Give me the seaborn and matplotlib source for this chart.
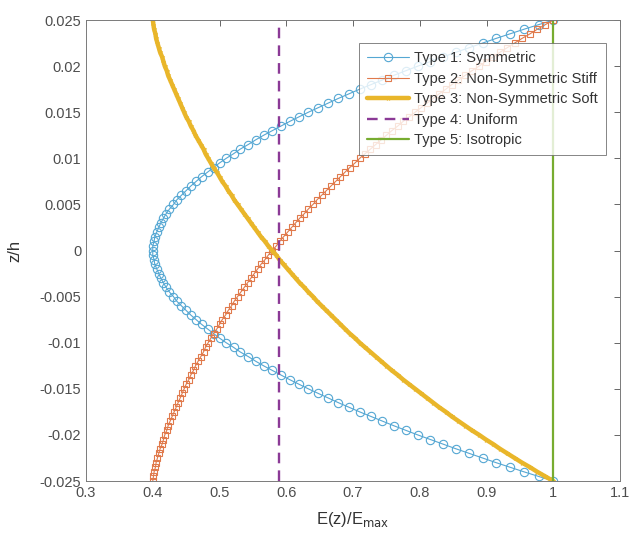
import numpy as np
import pandas as pd
import matplotlib
matplotlib.use("Agg")
import matplotlib.pyplot as plt
import seaborn as sns

# ---- data ----
z_over_h = np.linspace(-0.025, 0.025, 101)

type1_symmetric = [
    1.000, 0.978, 0.956, 0.935, 0.914, 0.894, 0.874, 0.854, 0.835, 0.816,
    0.797, 0.779, 0.761, 0.744, 0.727, 0.710, 0.694, 0.678, 0.663, 0.648,
    0.633, 0.619, 0.605, 0.592, 0.579, 0.566, 0.554, 0.543, 0.531, 0.521,
    0.510, 0.500, 0.491, 0.482, 0.473, 0.465, 0.457, 0.450, 0.443, 0.436,
    0.431, 0.425, 0.420, 0.416, 0.412, 0.409, 0.406, 0.403, 0.402, 0.400,
    0.400,
    0.400, 0.402, 0.403, 0.406, 0.409, 0.412, 0.416, 0.420, 0.425, 0.431,
    0.436, 0.443, 0.450, 0.457, 0.465, 0.473, 0.482, 0.491, 0.500, 0.510,
    0.521, 0.531, 0.543, 0.554, 0.566, 0.579, 0.592, 0.605, 0.619, 0.633,
    0.648, 0.663, 0.678, 0.694, 0.710, 0.727, 0.744, 0.761, 0.779, 0.797,
    0.816, 0.835, 0.854, 0.874, 0.894, 0.914, 0.935, 0.956, 0.978, 1.000,
]

type2_stiff = [
    0.400, 0.401, 0.402, 0.404, 0.405, 0.407, 0.409, 0.411, 0.414, 0.416,
    0.418, 0.421, 0.423, 0.426, 0.429, 0.432, 0.435, 0.438, 0.441, 0.444,
    0.447, 0.450, 0.454, 0.457, 0.461, 0.464, 0.468, 0.472, 0.476, 0.479,
    0.483, 0.487, 0.491, 0.496, 0.500, 0.504, 0.509, 0.513, 0.518, 0.522,
    0.527, 0.532, 0.537, 0.542, 0.547, 0.552, 0.557, 0.562, 0.568, 0.573,
    0.579, 0.585, 0.590, 0.596, 0.602, 0.608, 0.614, 0.620, 0.627, 0.633,
    0.640, 0.646, 0.653, 0.660, 0.667, 0.674, 0.681, 0.688, 0.695, 0.703,
    0.710, 0.718, 0.726, 0.734, 0.742, 0.750, 0.758, 0.767, 0.775, 0.784,
    0.793, 0.802, 0.811, 0.820, 0.829, 0.839, 0.848, 0.858, 0.868, 0.878,
    0.889, 0.899, 0.910, 0.920, 0.931, 0.942, 0.953, 0.965, 0.976, 0.988,
    1.000,
]

type3_soft = [
    1.000, 0.988, 0.976, 0.965, 0.953, 0.942, 0.931, 0.920, 0.910, 0.899,
    0.889, 0.878, 0.868, 0.858, 0.848, 0.839, 0.829, 0.820, 0.811, 0.802,
    0.793, 0.784, 0.775, 0.767, 0.758, 0.750, 0.742, 0.734, 0.726, 0.718,
    0.710, 0.703, 0.695, 0.688, 0.681, 0.674, 0.667, 0.660, 0.653, 0.646,
    0.640, 0.633, 0.627, 0.620, 0.614, 0.608, 0.602, 0.596, 0.590, 0.585,
    0.579, 0.573, 0.568, 0.562, 0.557, 0.552, 0.547, 0.542, 0.537, 0.532,
    0.527, 0.522, 0.518, 0.513, 0.509, 0.504, 0.500, 0.496, 0.491, 0.487,
    0.483, 0.479, 0.476, 0.472, 0.468, 0.464, 0.461, 0.457, 0.454, 0.450,
    0.447, 0.444, 0.441, 0.438, 0.435, 0.432, 0.429, 0.426, 0.423, 0.421,
    0.418, 0.416, 0.414, 0.411, 0.409, 0.407, 0.405, 0.404, 0.402, 0.401,
    0.400,
]

type4_uniform = 0.589
type5_isotropic = 1.0
z_ends = [-0.025, 0.025]

labels = ["Type 1: Symmetric", "Type 2: Non-Symmetric Stiff",
          "Type 3: Non-Symmetric Soft", "Type 4: Uniform", "Type 5: Isotropic"]
colors = ["#55A7D3", "#E07A4C", "#E9B62A", "#8B3A96", "#77AC30"]

x_ticks = [0.3, 0.4, 0.5, 0.6, 0.7, 0.8, 0.9, 1.0, 1.1]
x_ticklabels = ["0.3", "0.4", "0.5", "0.6", "0.7", "0.8", "0.9", "1", "1.1"]
y_ticks = [-0.025, -0.02, -0.015, -0.01, -0.005, 0, 0.005, 0.01, 0.015, 0.02, 0.025]
y_ticklabels = ["-0.025", "-0.02", "-0.015", "-0.01", "-0.005", "0",
                "0.005", "0.01", "0.015", "0.02", "0.025"]

# ---- plot ----
sns.set_theme(style="white")
plt.rcParams["font.family"] = ["Liberation Sans", "DejaVu Sans"]

fig = plt.figure(figsize=(6.33, 5.42), dpi=100)
ax = fig.add_axes([0.1359, 0.1125, 0.8436, 0.8505])

sns.lineplot(x=type1_symmetric, y=z_over_h, sort=False, estimator=None, ax=ax,
             color=colors[0], lw=0.8, marker="o", markersize=6,
             markerfacecolor="none", markeredgecolor=colors[0],
             markeredgewidth=0.8, label=labels[0])
sns.lineplot(x=type2_stiff, y=z_over_h, sort=False, estimator=None, ax=ax,
             color=colors[1], lw=0.8, marker="s", markersize=5,
             markerfacecolor="none", markeredgecolor=colors[1],
             markeredgewidth=0.8, label=labels[1])
sns.lineplot(x=type3_soft, y=z_over_h, sort=False, estimator=None, ax=ax,
             color=colors[2], lw=3.2, marker="*", markersize=3.5,
             markerfacecolor=colors[2], markeredgecolor=colors[2],
             markeredgewidth=0.5, label=labels[2])
sns.lineplot(x=[type4_uniform, type4_uniform], y=z_ends, sort=False,
             estimator=None, ax=ax, color=colors[3], lw=1.7,
             linestyle=(0, (4.5, 3)), label=labels[3])
sns.lineplot(x=[type5_isotropic, type5_isotropic], y=z_ends, sort=False,
             estimator=None, ax=ax, color=colors[4], lw=1.6, label=labels[4])

ax.set_xlim(0.3, 1.1)
ax.set_ylim(-0.025, 0.025)
ax.set_xticks(x_ticks)
ax.set_xticklabels(x_ticklabels)
ax.set_yticks(y_ticks)
ax.set_yticklabels(y_ticklabels)
ax.tick_params(direction="in", length=4, width=0.6, colors="#4d4d4d",
               labelsize=10.5, top=True, right=True, labelcolor="#4d4d4d")
for sp in ax.spines.values():
    sp.set_color("#7a7a7a")
    sp.set_linewidth(0.7)

ax.set_xlabel(r"E(z)/E$_{\mathrm{max}}$", fontsize=12, color="#333333", labelpad=7)
ax.set_ylabel("z/h", fontsize=12, color="#333333", labelpad=12)

leg = ax.legend(loc="upper right", bbox_to_anchor=(0.9738, 0.950),
                borderaxespad=0, fontsize=10.5, frameon=True, fancybox=False,
                handlelength=2.9, labelspacing=0.45, borderpad=0.55,
                handletextpad=0.35)
leg.get_frame().set_edgecolor("#666666")
leg.get_frame().set_linewidth(0.7)
for t in leg.get_texts():
    t.set_color("#333333")

fig.savefig("out.png", dpi=100, facecolor="white")
